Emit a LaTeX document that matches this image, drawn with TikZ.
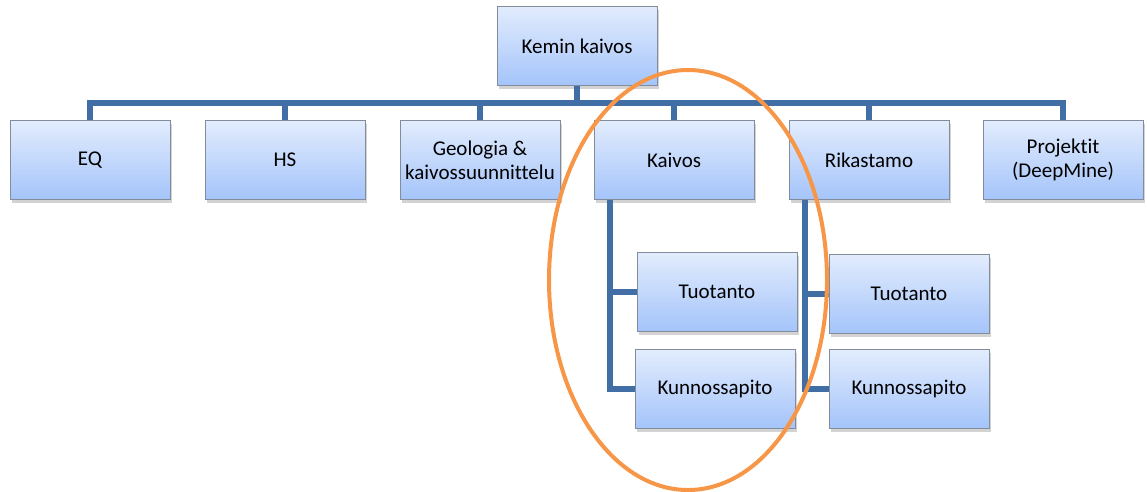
\documentclass[tikz,border=0pt]{standalone}
\usepackage{fontspec}
\setmainfont[Ligatures=NoCommon]{Carlito}
\usetikzlibrary{shadows}
\definecolor{boxtop}{RGB}{226,236,253}
\definecolor{boxbot}{RGB}{164,196,250}
\definecolor{boxline}{RGB}{130,140,155}
\definecolor{linkblue}{RGB}{66,110,166}
\definecolor{ringorange}{RGB}{247,150,70}
\begin{document}
\begin{tikzpicture}[x=1pt,y=-1pt,
  box/.style={draw=boxline, line width=1pt, top color=boxtop, bottom color=boxbot,
    minimum width=160pt, minimum height=79pt, align=center, font=\fontsize{21}{24}\selectfont,
    drop shadow={opacity=0.35, shadow xshift=2pt, shadow yshift=-3pt}},
  link/.style={draw=linkblue, line width=5.5pt}]
\useasboundingbox (0,0) rectangle (1147,491);

\node[box] (top) at (577,46) {Kemin kaivos};

\node[box] (eq) at (90,160) {EQ};
\node[box] (hs) at (285,160) {HS};
\node[box] (geo) at (480,160) {Geologia \&\\kaivossuunnittelu};
\node[box] (kaivos) at (674,160) {Kaivos};
\node[box] (rik) at (869,160) {Rikastamo};
\node[box] (proj) at (1063,160) {Projektit\\(DeepMine)};

\node[box] (kt) at (717,292) {Tuotanto};
\node[box] (kk) at (715,389) {Kunnossapito};
\node[box] (rt) at (909,294) {Tuotanto};
\node[box] (rk) at (909,389) {Kunnossapito};

\coordinate (bar) at (577,103);
\coordinate (kv) at (610,200);
\coordinate (rv) at (805,200);

\path[link] (top) -- (bar);
\path[link] (bar) -| (eq);
\path[link] (bar) -| (hs);
\path[link] (bar) -| (geo);
\path[link] (bar) -| (kaivos);
\path[link] (bar) -| (rik);
\path[link] (bar) -| (proj);

\path[link] (kv) |- (kt.west);
\path[link] (kv) |- (kk.west);
\path[link] (rv) |- (rt.west);
\path[link] (rv) |- (rk.west);

\draw[ringorange, line width=4pt] (688,280) ellipse (139pt and 210pt);
\end{tikzpicture}
\end{document}
